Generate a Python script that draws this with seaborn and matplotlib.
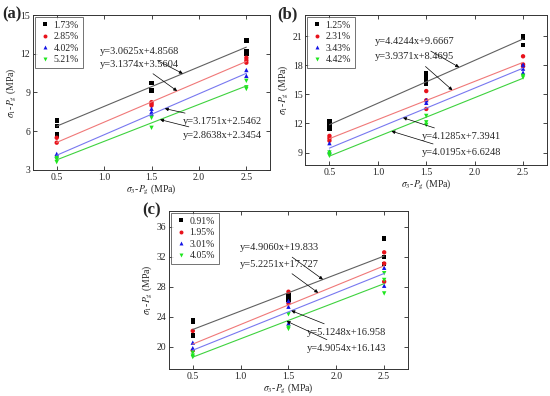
import numpy as np
import pandas as pd
import matplotlib
matplotlib.use('Agg')
import matplotlib.pyplot as plt
import seaborn as sns

# panel (a)
a_labels = ['1.73%', '2.85%', '4.02%', '5.21%']
a_x = [[0.5] * 4 + [1.5] * 2 + [2.5] * 3,
       [0.5] * 2 + [1.5] * 3 + [2.5] * 3,
       [0.5] * 2 + [1.5] * 3 + [2.5] * 2,
       [0.5] * 3 + [1.5] * 2 + [2.5] * 3]
a_y = [[6.84, 6.41, 5.75, 5.62, 9.73, 9.14, 13.04, 12.2, 12.02],
       [5.49, 5.11, 8.25, 8.12, 7.99, 11.69, 11.49, 11.31],
       [4.24, 4.12, 7.74, 7.49, 7.36, 10.74, 10.29],
       [3.92, 3.79, 3.6, 7.03, 6.26, 9.9, 9.4, 9.27]]
a_slope = [3.0625, 3.1374, 3.1751, 2.8638]
a_icept = [4.8568, 3.5604, 2.5462, 2.3454]
a_eq = ['y=3.0625x+4.8568', 'y=3.1374x+3.5604', 'y=3.1751x+2.5462', 'y=2.8638x+2.3454']

# panel (b)
b_labels = ['1.25%', '2.31%', '3.43%', '4.42%']
b_x = [[0.5] * 3 + [1.5] * 4 + [2.5] * 3,
       [0.5] * 3 + [1.5] * 3 + [2.5] * 3,
       [0.5] * 2 + [1.5] * 2 + [2.5] * 3,
       [0.5] * 3 + [1.5] * 3 + [2.5] * 2]
b_y = [[12.19, 11.75, 11.5, 17.17, 16.72, 16.41, 16.07, 21.0, 20.83, 20.1],
       [10.72, 10.48, 10.23, 15.35, 14.4, 13.5, 18.94, 18.1, 17.9],
       [9.97, 9.1, 14.42, 14.14, 18.08, 17.67, 17.26],
       [9.0, 8.83, 8.66, 12.78, 12.12, 11.85, 16.92, 16.75]]
b_slope = [4.4244, 3.9371, 4.1285, 4.0195]
b_icept = [9.6667, 8.4695, 7.3941, 6.6248]
b_eq = ['y=4.4244x+9.6667', 'y=3.9371x+8.4695', 'y=4.1285x+7.3941', 'y=4.0195x+6.6248']

# panel (c)
c_labels = ['0.91%', '1.95%', '3.01%', '4.05%']
c_x = [[0.5] * 3 + [1.5] * 3 + [2.5] * 3,
       [0.5] * 2 + [1.5] * 2 + [2.5] * 3,
       [0.5] * 2 + [1.5] * 3 + [2.5] * 2,
       [0.5] * 3 + [1.5] * 3 + [2.5] * 3]
c_y = [[23.56, 23.25, 21.47, 26.8, 26.53, 26.23, 34.45, 32.0, 31.0],
       [22.1, 19.47, 27.33, 25.78, 32.59, 31.1, 28.67],
       [20.53, 19.8, 26.1, 25.33, 23.1, 30.53, 28.13],
       [19.2, 18.8, 18.6, 24.32, 22.53, 22.36, 29.8, 28.9, 27.1]]
c_slope = [4.9060, 5.2251, 5.1248, 4.9054]
c_icept = [19.833, 17.727, 16.958, 16.143]
c_eq = ['y=4.9060x+19.833', 'y=5.2251x+17.727', 'y=5.1248x+16.958', 'y=4.9054x+16.143']

sns.set_style('ticks')
plt.rcParams['font.family'] = ['Liberation Serif', 'DejaVu Serif']
plt.rcParams['mathtext.fontset'] = 'stix'

pt_colors = ['black', '#e8121b', '#1414e6', '#1ee61e']
ln_colors = ['#606060', '#f07878', '#7878f0', '#3ed23e']
markers = ['s', 'o', '^', 'v']


def draw_panel(ax, labels, xs, ys, slopes, icepts, eqs, ylim, yticks,
               text_pos, arrow_x):
    rows = []
    for lab, xv, yv in zip(labels, xs, ys):
        for xi, yi in zip(xv, yv):
            rows.append((lab, xi, yi))
    df = pd.DataFrame(rows, columns=['series', 'x', 'y'])

    xfit = np.array([0.5, 2.5])
    for i in range(4):
        sns.lineplot(x=xfit, y=slopes[i] * xfit + icepts[i], ax=ax,
                     color=ln_colors[i], linewidth=0.8, legend=False)

    sns.scatterplot(data=df, x='x', y='y', hue='series', style='series',
                    palette=dict(zip(labels, pt_colors)),
                    markers=dict(zip(labels, markers)),
                    hue_order=labels, style_order=labels,
                    s=10, linewidth=0, ax=ax)

    for i in range(4):
        ax_x = arrow_x[i]
        ax.annotate(eqs[i], xy=(ax_x, slopes[i] * ax_x + icepts[i]),
                    xytext=text_pos[i], fontsize=7.5, va='center',
                    arrowprops=dict(arrowstyle='-|>', color='black',
                                    lw=0.5, mutation_scale=5,
                                    shrinkA=2, shrinkB=0))

    ax.set_xlim(0.25, 2.75)
    ax.set_ylim(*ylim)
    ax.set_xticks([0.5, 1.0, 1.5, 2.0, 2.5])
    ax.set_yticks(yticks)
    ax.tick_params(direction='in', top=True, right=True, labelsize=7,
                   length=3, width=0.6, pad=2)
    for sp in ax.spines.values():
        sp.set_linewidth(0.7)
        sp.set_color('#333333')
    ax.set_xlabel(r'$\sigma_3$-$P_{\rm g}$ (MPa)', fontsize=7, labelpad=0)
    ax.set_ylabel(r'$\sigma_1$-$P_{\rm g}$ (MPa)', fontsize=7, labelpad=2)
    leg = ax.legend(loc='upper left', fontsize=7, frameon=True, fancybox=False,
                    edgecolor='#333333', handletextpad=0.3, labelspacing=0.25,
                    borderpad=0.4, markerscale=0.9, handlelength=1.2,
                    borderaxespad=0.2)
    leg.get_frame().set_linewidth(0.6)


fig = plt.figure(figsize=(5.5, 3.96), dpi=100)
ax_a = fig.add_axes([0.06, 0.571, 0.431, 0.391])
ax_b = fig.add_axes([0.555, 0.583, 0.44, 0.379])
ax_c = fig.add_axes([0.307, 0.068, 0.435, 0.399])

draw_panel(ax_a, a_labels, a_x, a_y, a_slope, a_icept, a_eq,
           (3, 15), [3, 6, 9, 12, 15],
           [(0.96, 12.17), (0.96, 11.18), (1.83, 6.75), (1.83, 5.68)],
           [1.83, 1.77, 1.64, 1.59])
draw_panel(ax_b, b_labels, b_x, b_y, b_slope, b_icept, b_eq,
           (7.7, 23.2), [9, 12, 15, 18, 21],
           [(0.97, 20.42), (0.97, 18.88), (1.45, 10.65), (1.45, 9.0)],
           [1.84, 1.77, 1.26, 1.14])
draw_panel(ax_c, c_labels, c_x, c_y, c_slope, c_icept, c_eq,
           (17, 38.1), [20, 24, 28, 32, 36],
           [(0.99, 33.2), (0.99, 30.99), (1.69, 21.87), (1.69, 19.73)],
           [1.86, 1.81, 1.53, 1.48])

fig.text(0.004, 0.985, '(a)', fontsize=12, fontweight='bold', va='top')
fig.text(0.505, 0.985, '(b)', fontsize=12, fontweight='bold', va='top')
fig.text(0.258, 0.49, '(c)', fontsize=12, fontweight='bold', va='top')

fig.savefig('out.png', dpi=100)
